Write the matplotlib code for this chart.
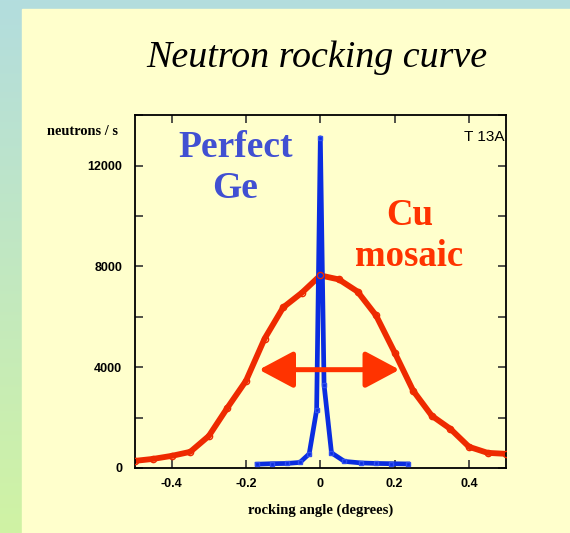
import numpy as np
import matplotlib.pyplot as plt

# ---------- DATA ----------
# Cu mosaic crystal rocking curve (angle in degrees, neutrons / s)
cu_angle = [-0.50, -0.45, -0.40, -0.35, -0.30, -0.25, -0.20, -0.15, -0.10, -0.05,
            0.00, 0.05, 0.10, 0.15, 0.20, 0.25, 0.30, 0.35, 0.40, 0.45, 0.50]
cu_counts = [280, 360, 480, 640, 1270, 2390, 3460, 5130, 6370, 6950,
             7640, 7480, 7000, 6050, 4580, 3060, 2070, 1550, 840, 600, 560]

# Perfect Ge crystal rocking curve
ge_angle = [-0.17, -0.13, -0.09, -0.055, -0.03, -0.01, 0.0, 0.01, 0.03, 0.065,
            0.11, 0.15, 0.19, 0.235]
ge_counts = [150, 170, 180, 220, 560, 2300, 13100, 3300, 600, 260,
             200, 180, 170, 160]

# full width at half maximum of the Cu curve
fwhm_left, fwhm_right, half_max = -0.165, 0.213, 3900

x_ticks = [-0.4, -0.2, 0, 0.2, 0.4]
x_labels = ['-0.4', '-0.2', '0', '0.2', '0.4']
y_ticks = [0, 4000, 8000, 12000]
# --------------------------

CREAM = '#FFFFCC'
RED = '#EE2A00'
BLUE = '#0A2DE0'

fig = plt.figure(figsize=(5.70, 5.33), dpi=100)

# slide background: teal-to-green gradient with a cream panel
bg = fig.add_axes([0, 0, 1, 1], zorder=-10)
top = np.array([0xB3, 0xDD, 0xDE]) / 255
bottom = np.array([0xD0, 0xF3, 0xA4]) / 255
t = np.linspace(0, 1, 256)[:, None]
grad = (top * (1 - t) + bottom * t)[:, None, :]
bg.imshow(grad, aspect='auto', extent=[0, 1, 0, 1], origin='upper')
bg.add_patch(plt.Rectangle((22 / 570, 0), 1, 1 - 9 / 533, color=CREAM))
bg.set_xlim(0, 1)
bg.set_ylim(0, 1)
bg.axis('off')

fig.text(0.556, 0.891, 'Neutron rocking curve', family='Liberation Serif',
         style='italic', fontsize=27.4, ha='center', va='center')

ax = fig.add_axes([0.236, 0.122, 0.652, 0.662])
ax.set_facecolor('none')

ax.plot(cu_angle, cu_counts, color=RED, lw=4.2, zorder=2, solid_capstyle='butt')
ax.plot(ge_angle, ge_counts, color=BLUE, lw=3.4, marker='s', ms=3.5,
        mfc='none', mec='#3050F0', mew=1, zorder=3)
ax.plot(cu_angle, cu_counts, ls='none', marker='o', ms=4.5, mfc='none',
        mec=RED, mew=1, zorder=4)

ax.annotate('', xy=(fwhm_left, half_max), xytext=(fwhm_right, half_max),
            arrowprops=dict(arrowstyle='<|-|>,head_length=1.5,head_width=0.8',
                            color='#FF3300', lw=3.6, mutation_scale=14,
                            shrinkA=0, shrinkB=0),
            zorder=5)

ax.set_xlim(-0.5, 0.5)
ax.set_ylim(0, 14000)
ax.set_xticks(x_ticks)
ax.set_xticklabels(x_labels)
ax.set_yticks(y_ticks)
ax.set_yticks(np.arange(0, 14001, 2000), minor=True)
ax.tick_params(which='both', direction='in', top=True, right=True,
               length=6, width=1.2, color='#333333')
ax.tick_params(axis='y', pad=9)
ax.tick_params(axis='x', pad=7)
for lbl in ax.get_xticklabels() + ax.get_yticklabels():
    lbl.set_family('Liberation Sans')
    lbl.set_fontweight('bold')
    lbl.set_fontsize(9)
for s in ax.spines.values():
    s.set_linewidth(1.3)

ax.text(-0.736, 13370, 'neutrons / s', family='Liberation Serif',
        fontweight='bold', fontsize=10.4, ha='left', va='center')
ax.set_xlabel('rocking angle (degrees)', family='Liberation Serif',
              fontweight='bold', fontsize=10.5, labelpad=10)

ax.text(0.495, 13150, 'T 13A', family='Liberation Sans', fontsize=11,
        ha='right', va='center')
ax.text(-0.229, 11900, 'Perfect\nGe', family='Liberation Serif',
        fontweight='bold', fontsize=27, color='#4150D2', ha='center',
        va='center', linespacing=1.25)
ax.text(0.24, 9200, 'Cu\nmosaic', family='Liberation Serif',
        fontweight='bold', fontsize=26.5, color='#FF3300', ha='center',
        va='center', linespacing=1.22)

fig.savefig('out.png', dpi=100)
